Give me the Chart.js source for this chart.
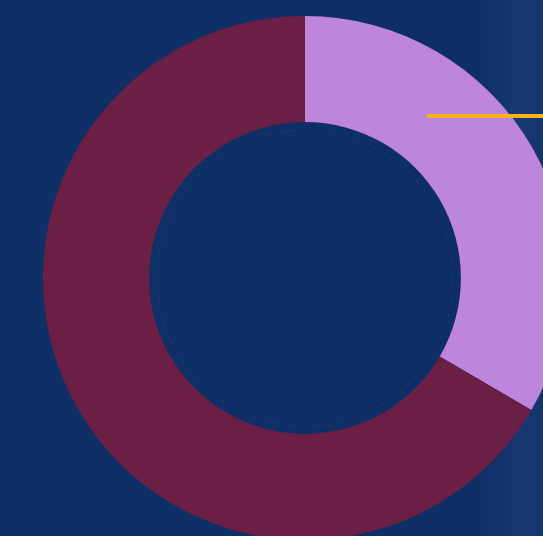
<!DOCTYPE html>
<html>
<head>
<meta charset="utf-8">
<script src="https://cdn.jsdelivr.net/npm/chart.js@4.4.1/dist/chart.umd.min.js"></script>
<style>
  html, body { margin: 0; padding: 0; }
  body {
    width: 543px; height: 536px; overflow: hidden; position: relative;
    background: linear-gradient(90deg, #0f3066 0%, #0e2f65 88%, #17396f 96%, #12346a 100%);
  }
  #wrap { position: absolute; left: 43px; top: 16px; width: 524px; height: 524px; }
</style>
</head>
<body>
<div id="wrap"><canvas id="donut"></canvas></div>
<script>
  /* ── data ── */
  const segments = ['Share A', 'Share B'];
  const shares = [33.4, 66.6];
  const segColors = ['#bd85dc', '#6b1f45'];

  /* faint ring inside the hole + orange leader line */
  const extras = {
    id: 'extras',
    afterDatasetsDraw(chart) {
      const arc = chart.getDatasetMeta(0).data[0];
      if (!arc) return;
      const { x, y, innerRadius, outerRadius } = arc;
      const c = chart.ctx;
      c.save();
      // faint inner ring
      c.strokeStyle = 'rgba(120,150,200,0.12)';
      c.lineWidth = 1;
      c.setLineDash([3, 3]);
      c.beginPath();
      c.arc(x, y, innerRadius - 8, 0, Math.PI * 2);
      c.stroke();
      c.setLineDash([]);
      // leader line from mid-ring of first segment, out to the right
      const ang = 37 * Math.PI / 180;
      const mid = (innerRadius + outerRadius) / 2 - 6;
      const sx = x + mid * Math.sin(ang);
      const sy = y - mid * Math.cos(ang);
      c.strokeStyle = '#f5b21c';
      c.lineWidth = 4;
      c.beginPath();
      c.moveTo(sx, sy);
      c.lineTo(chart.width, sy);
      c.stroke();
      c.restore();
    }
  };

  new Chart(document.getElementById('donut'), {
    type: 'doughnut',
    data: {
      labels: segments,
      datasets: [{
        data: shares,
        backgroundColor: segColors,
        borderWidth: 0,
        hoverOffset: 0
      }]
    },
    options: {
      responsive: true, maintainAspectRatio: false,
      animation: false,
      cutout: '59.5%',
      layout: { padding: 0 },
      plugins: { legend: { display: false }, tooltip: { enabled: false } }
    },
    plugins: [extras]
  });
</script>
</body>
</html>
